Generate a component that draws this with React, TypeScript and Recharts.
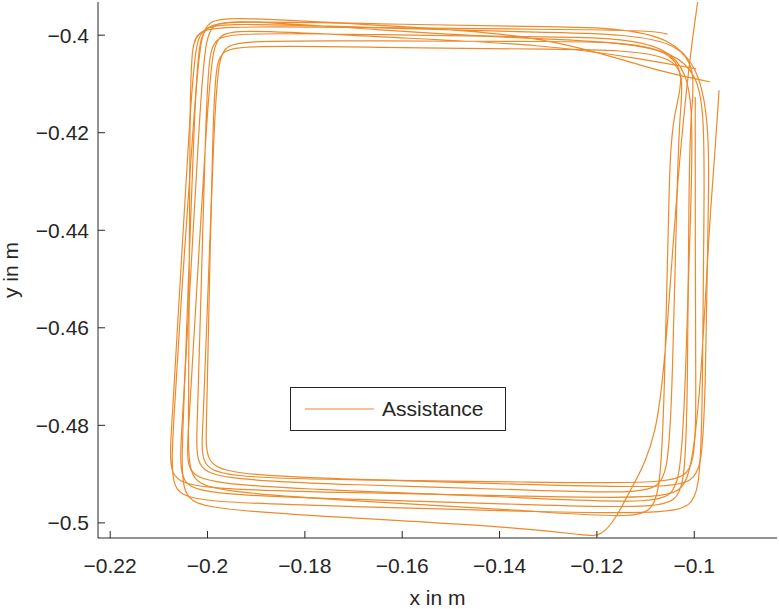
import { LineChart, Line, XAxis, YAxis, Legend } from 'recharts';

// axis setup
const xTicks = [-0.22, -0.2, -0.18, -0.16, -0.14, -0.12, -0.1];
const yTicks = [-0.5, -0.48, -0.46, -0.44, -0.42, -0.4];
const xDomain = [-0.2225, -0.083];
const yDomain = [-0.5031, -0.3932];

// three recorded runs, [x, y] in m
const trialA: [number, number][] = [
  [-0.0967, -0.4096], [-0.11, -0.4068],
  [-0.13, -0.4], [-0.165, -0.398], [-0.1985, -0.3959], [-0.2015, -0.398], [-0.203, -0.42], [-0.2055, -0.455], [-0.207, -0.48],
  [-0.2077, -0.493], [-0.2037, -0.4958], [-0.17, -0.4966], [-0.135, -0.4977], [-0.1026, -0.4983], [-0.0986, -0.4953],
  [-0.0983, -0.47], [-0.098, -0.435], [-0.0978, -0.415],
  [-0.1007, -0.402], [-0.13, -0.4009], [-0.165, -0.399], [-0.1975, -0.3965], [-0.2005, -0.3985], [-0.2018, -0.42], [-0.2038, -0.455], [-0.2052, -0.48],
  [-0.206, -0.4912], [-0.202, -0.4942], [-0.17, -0.4952], [-0.135, -0.4962], [-0.1057, -0.4972], [-0.1017, -0.4942],
  [-0.1014, -0.47], [-0.1011, -0.435], [-0.1009, -0.415],
  [-0.0986, -0.4], [-0.13, -0.3995], [-0.165, -0.3985], [-0.1995, -0.3973], [-0.2025, -0.3993], [-0.2038, -0.42], [-0.2059, -0.455], [-0.2073, -0.48],
  [-0.2081, -0.4901], [-0.2041, -0.4931], [-0.17, -0.4938], [-0.135, -0.4945], [-0.1047, -0.4952], [-0.1007, -0.4922],
  [-0.0985, -0.47], [-0.097, -0.44], [-0.0958, -0.425], [-0.0949, -0.4113],
];

const trialB: [number, number][] = [
  [-0.0996, -0.4069], [-0.11, -0.405],
  [-0.13, -0.4019], [-0.165, -0.4004], [-0.196, -0.3986], [-0.199, -0.4006], [-0.2003, -0.42], [-0.2024, -0.455], [-0.2038, -0.48],
  [-0.2046, -0.4891], [-0.2006, -0.4921], [-0.17, -0.4935], [-0.135, -0.4948], [-0.1067, -0.4962], [-0.1027, -0.4932],
  [-0.1018, -0.47], [-0.1007, -0.435], [-0.1001, -0.415],
  [-0.1027, -0.4006], [-0.13, -0.4004], [-0.165, -0.3999], [-0.1968, -0.3994], [-0.1998, -0.4014], [-0.2004, -0.42], [-0.2014, -0.455], [-0.2021, -0.48],
  [-0.2025, -0.4881], [-0.1985, -0.4911], [-0.17, -0.4922], [-0.135, -0.4932], [-0.1092, -0.4942], [-0.1052, -0.4912],
  [-0.1045, -0.47], [-0.1036, -0.435], [-0.1031, -0.415],
  [-0.1011, -0.4014], [-0.13, -0.4013], [-0.165, -0.4012], [-0.1948, -0.401], [-0.1978, -0.403], [-0.1987, -0.42], [-0.2, -0.455], [-0.2009, -0.48],
  [-0.2015, -0.4877], [-0.1975, -0.4907], [-0.17, -0.4912], [-0.135, -0.4916], [-0.1036, -0.4921], [-0.0996, -0.4891],
  [-0.0997, -0.47], [-0.0998, -0.44], [-0.0998, -0.4127],
];

const trialC: [number, number][] = [
  [-0.1055, -0.3998], [-0.109, -0.399],
  [-0.13, -0.3988], [-0.165, -0.3985], [-0.2005, -0.398], [-0.2035, -0.4], [-0.2036, -0.42], [-0.2038, -0.455], [-0.2039, -0.48],
  [-0.204, -0.4905], [-0.2, -0.4935], [-0.17, -0.4955], [-0.135, -0.4974], [-0.1108, -0.4993], [-0.1068, -0.4963],
  [-0.1061, -0.47], [-0.1052, -0.435], [-0.1048, -0.415],
  [-0.0995, -0.4031], [-0.13, -0.4029], [-0.165, -0.4025], [-0.1954, -0.402], [-0.1984, -0.404], [-0.1989, -0.42], [-0.1997, -0.455], [-0.2002, -0.48],
  [-0.2005, -0.4871], [-0.1965, -0.4901], [-0.17, -0.4911], [-0.135, -0.4921], [-0.1022, -0.4931], [-0.0982, -0.4901],
  [-0.0977, -0.47], [-0.0971, -0.435], [-0.0968, -0.415],
  [-0.1017, -0.3986], [-0.13, -0.3983], [-0.165, -0.3977], [-0.1989, -0.3969], [-0.2019, -0.3989], [-0.2028, -0.42], [-0.2041, -0.455], [-0.205, -0.48],
  [-0.2056, -0.4942], [-0.2016, -0.4972], [-0.17, -0.499], [-0.135, -0.501], [-0.122, -0.5026], [-0.1192, -0.5028],
  [-0.116, -0.499], [-0.113, -0.493], [-0.1075, -0.483], [-0.1055, -0.46], [-0.1035, -0.43], [-0.101, -0.405], [-0.0993, -0.3932],
];

const trials = [trialA, trialB, trialC].map(t => t.map(([x, y]) => ({ x, y })));

const ORANGE = '#EE8A2A';
const AXIS = '#262626';
const FONT = '"Liberation Sans", Arial, sans-serif';

// MATLAB prints a real minus sign on tick labels
const fmt = (v: number) => String(v).replace('-', '\u2212');

const XTick = ({ x, y, payload }: any) => (
  <g>
    <line x1={x} y1={y} x2={x} y2={y - 7} stroke={AXIS} strokeWidth={1} />
    <text x={x} y={y + 35} textAnchor="middle" fill={AXIS} fontSize={21} fontFamily={FONT}>
      {fmt(payload.value)}
    </text>
  </g>
);

const YTick = ({ x, y, payload }: any) => (
  <g>
    <line x1={x} y1={y} x2={x + 7} y2={y} stroke={AXIS} strokeWidth={1} />
    <text x={x - 9} y={y + 7.5} textAnchor="end" fill={AXIS} fontSize={21} fontFamily={FONT}>
      {fmt(payload.value)}
    </text>
  </g>
);

const LegendBox = () => (
  <div
    style={{
      width: 216, height: 44, boxSizing: 'border-box', border: `1px solid ${AXIS}`, background: '#fff',
      display: 'flex', alignItems: 'center', fontFamily: FONT, fontSize: 21, color: AXIS,
    }}
  >
    <svg width={83} height={10} style={{ marginLeft: 14 }}>
      <line x1={0} y1={5} x2={69} y2={5} stroke={ORANGE} strokeWidth={1.2} />
    </svg>
    <span style={{ marginLeft: -6 }}>Assistance</span>
  </div>
);

export default function App() {
  return (
    <div style={{ position: 'absolute', left: 0, top: 0 }}>
      <LineChart width={779} height={609} margin={{ top: 2, right: 2, left: 0, bottom: 0 }}>
        <XAxis
          type="number"
          dataKey="x"
          domain={xDomain}
          allowDataOverflow
          ticks={xTicks}
          height={71}
          tickSize={0}
          tickMargin={0}
          tick={<XTick />}
          stroke={AXIS}
          label={({ viewBox }: any) => (
            <text x={viewBox.x + viewBox.width / 2} y={viewBox.y + 67} textAnchor="middle" fill={AXIS} fontSize={21} fontFamily={FONT}>
              x in m
            </text>
          )}
        />
        <YAxis
          type="number"
          dataKey="y"
          domain={yDomain}
          allowDataOverflow
          ticks={yTicks}
          width={98}
          tickSize={0}
          tickMargin={0}
          tick={<YTick />}
          stroke={AXIS}
          label={({ viewBox }: any) => {
            const cy = viewBox.y + viewBox.height / 2;
            return (
              <text x={18} y={cy} transform={`rotate(-90 18 ${cy})`} textAnchor="middle" fill={AXIS} fontSize={21} fontFamily={FONT}>
                y in m
              </text>
            );
          }}
        />
        <Legend
          layout="horizontal"
          verticalAlign="middle"
          content={() => <LegendBox />}
          wrapperStyle={{ left: 290, top: 387, width: 216, height: 44 }}
        />
        {trials.map((d, i) => (
          <Line
            key={i}
            data={d}
            dataKey="y"
            name="Assistance"
            type="basis"
            stroke={ORANGE}
            strokeWidth={1.2}
            dot={false}
            activeDot={false}
            isAnimationActive={false}
            legendType="none"
          />
        ))}
      </LineChart>
    </div>
  );
}
